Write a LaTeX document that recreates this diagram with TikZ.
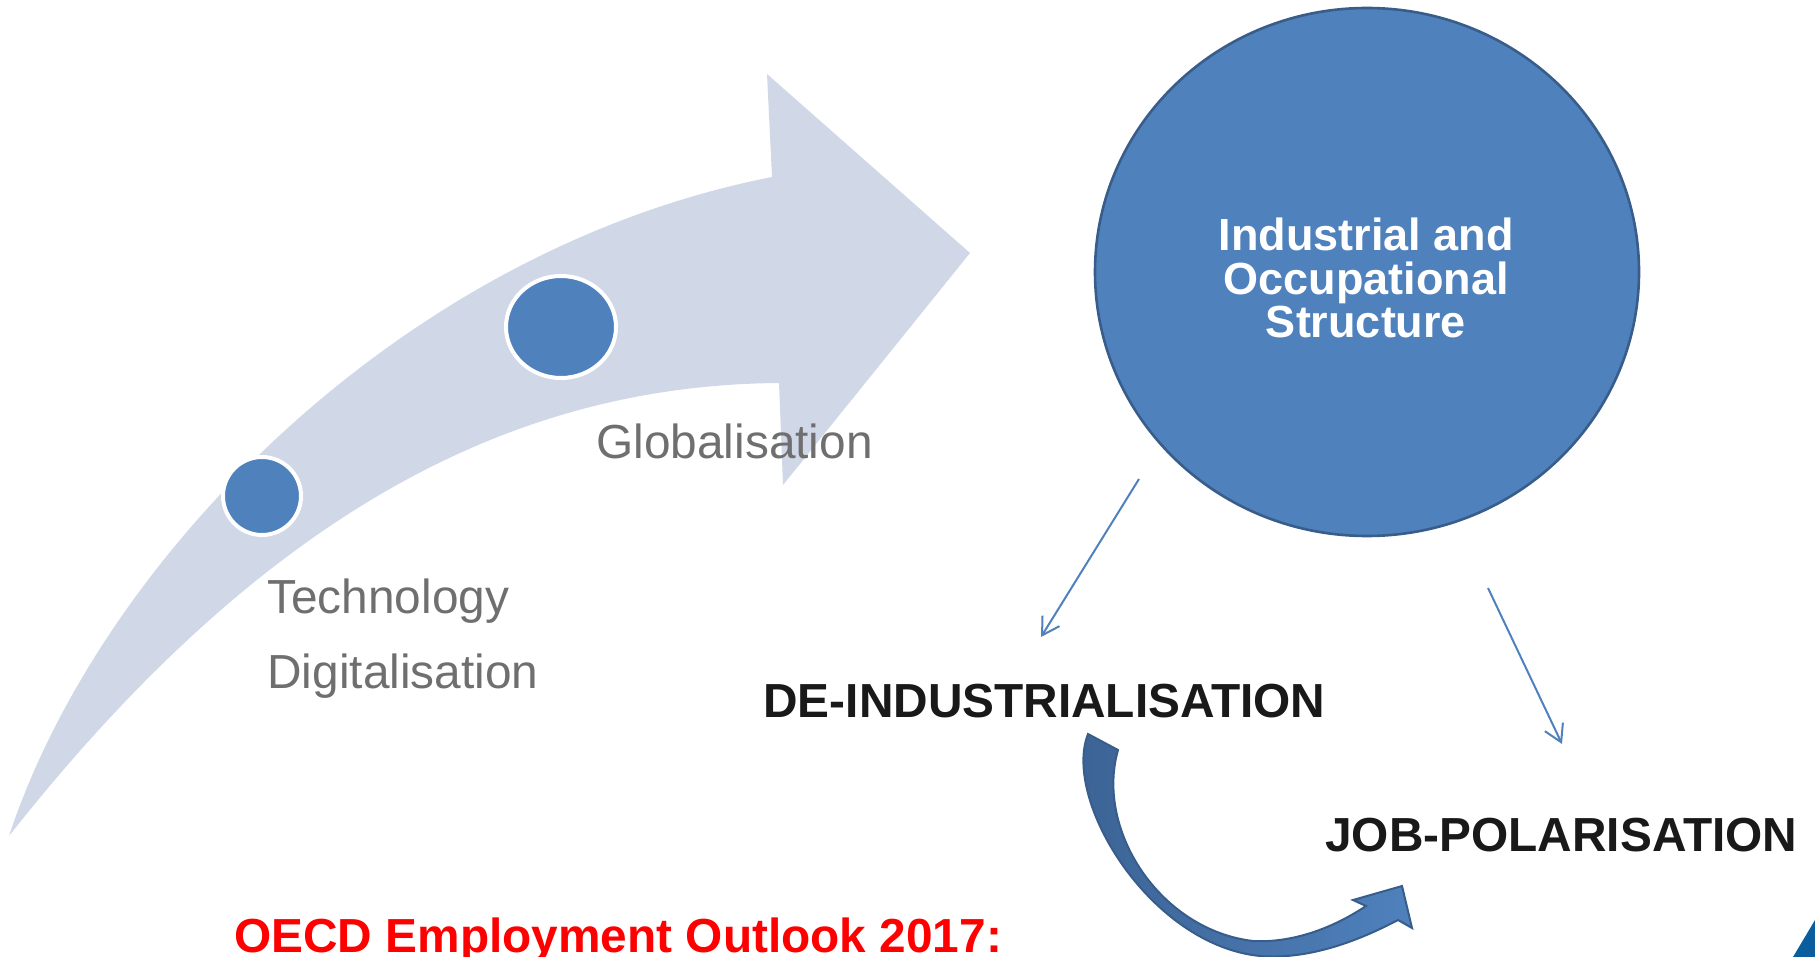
\documentclass[tikz,border=0pt]{standalone}
\usepackage{fontspec}
\setmainfont{Liberation Sans}
\usepackage{xcolor}
\usetikzlibrary{arrows.meta, positioning, shapes.geometric}

\definecolor{oBlue}{HTML}{4F81BD}
\definecolor{oBlueDark}{HTML}{385D8A}
\definecolor{oBlueDeep}{HTML}{3B6293}
\definecolor{paleArrow}{HTML}{D0D8E8}
\definecolor{txtGrey}{HTML}{6F6F6F}
\definecolor{cornerBlue}{HTML}{0B5E9E}

\begin{document}
\begin{tikzpicture}[
    x=0.5pt, y=-0.5pt,
    dot/.style={circle, fill=oBlue, draw=white, line width=2pt, inner sep=0pt, minimum size=#1},
    driver/.style={font=\fontsize{23.9}{28}\selectfont, text=txtGrey, anchor=base west, inner sep=0pt},
    result/.style={font=\fontsize{23.9}{28}\selectfont\bfseries, text=black!90, anchor=base west, inner sep=0pt},
    link/.style={-{Straight Barb[length=8.5pt, width=10pt]}, oBlue, line width=1pt}
]
\useasboundingbox (0,0) rectangle (1815,957);

% ---- Drivers: pale sweeping arrow ----
\fill[paleArrow] (9,836) .. controls (100,560) and (400,250) .. (772,177)
    -- (767,74) -- (970,253) -- (783,485) -- (779,383)
    .. controls (520,385) and (270,505) .. (9,836) -- cycle;

\node[dot=39pt] (techdot) at (262,496) {};
\node[dot=39pt, ellipse, minimum width=55pt, minimum height=51pt] (globdot) at (561,327) {};

\node[driver] (glob) at (596,458) {Globalisation};
\node[driver] (tech) at (267,613) {Technology};
\node[driver, below=37.75pt of tech.base west, anchor=base west] (digi) {Digitalisation};

% ---- Structure ----
\node[ellipse, fill=oBlue, draw=oBlueDark, line width=1.3pt, minimum width=272pt, minimum height=264pt, inner sep=0pt] (struct) at (1367,272) {};
\node[font=\fontsize{22.5}{21.75}\selectfont\bfseries, text=white, align=center, inner sep=0pt] (structlbl) at (1366,278) {Industrial and\\Occupational\\Structure};

% ---- Outcomes ----
\node[result] (deind) at (763,717) {DE-INDUSTRIALISATION};
\node[result] (jobpol) at (1325,851) {JOB-POLARISATION};
\node[result, text=red] (oecd) at (234,952) {OECD Employment Outlook 2017:};

% ---- Thin arrows ----
\coordinate (s1) at (1139,479);
\coordinate (e1) at (1041,637);
\coordinate (s2) at (1488,588);
\coordinate (e2) at (1562,744);
\draw[link] (s1) -- (e1);
\draw[link] (s2) -- (e2);

% ---- Curved block arrow ----
\draw[draw=oBlueDark, line width=1pt, left color=oBlueDeep, right color=oBlue]
    (1088,734) .. controls (1062,800) and (1150,945) .. (1260,956)
    .. controls (1310,960) and (1360,940) .. (1398,920)
    -- (1412,928) -- (1402,886) -- (1353,900) -- (1366,906)
    .. controls (1330,930) and (1290,943) .. (1253,941)
    .. controls (1160,930) and (1095,830) .. (1118,750) -- cycle;

% corner mark
\fill[cornerBlue] (1793,957) -- (1815,920) -- (1815,957) -- cycle;

\end{tikzpicture}
\end{document}
